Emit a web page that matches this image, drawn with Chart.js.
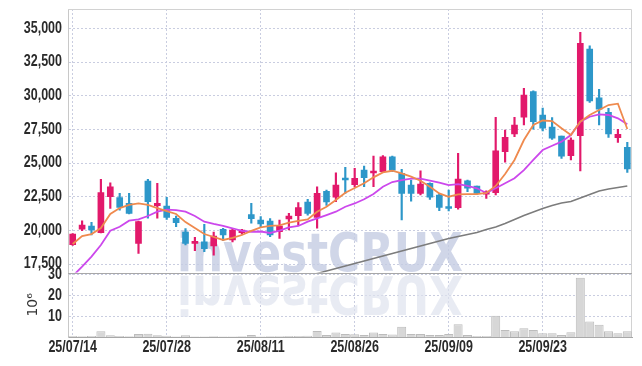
<!DOCTYPE html>
<html>
<head>
<meta charset="utf-8">
<script src="https://cdn.jsdelivr.net/npm/chart.js@4/dist/chart.umd.min.js"></script>
<style>
  body { margin: 0; background: #fff; }
</style>
</head>
<body>
<canvas id="chart" width="642" height="366"></canvas>
<script>
const dates = [
  '25/07/14', '25/07/15', '25/07/16', '25/07/17', '25/07/18', '25/07/21', '25/07/22', '25/07/23', '25/07/24', '25/07/25',
  '25/07/28', '25/07/29', '25/07/30', '25/07/31', '25/08/01', '25/08/04', '25/08/05', '25/08/06', '25/08/07', '25/08/08',
  '25/08/11', '25/08/12', '25/08/13', '25/08/14', '25/08/18', '25/08/19', '25/08/20', '25/08/21', '25/08/22', '25/08/25',
  '25/08/26', '25/08/27', '25/08/28', '25/08/29', '25/09/01', '25/09/02', '25/09/03', '25/09/04', '25/09/05', '25/09/08',
  '25/09/09', '25/09/10', '25/09/11', '25/09/12', '25/09/15', '25/09/16', '25/09/17', '25/09/18', '25/09/19', '25/09/22',
  '25/09/23', '25/09/24', '25/09/25', '25/09/26', '25/09/29', '25/09/30', '25/10/01', '25/10/02', '25/10/10', '25/10/13'
]

const opens = [
  18940, 20100, 20330, 19830, 22500, 22430, 22010, 19040, 23670, 21830,
  21810, 20900, 19880, 19040, 19160, 18840, 20080, 19290, 19830, 21170,
  20770, 20700, 19900, 20850, 21090, 22110, 20970, 22900, 22460, 23870,
  23390, 24480, 24260, 24360, 25470, 24240, 23370, 22750, 23500, 22630,
  21700, 21690, 23690, 23300, 22700, 22800, 25840, 27160, 28400, 30300,
  28570, 27680, 27010, 25550, 27030, 33470, 29850, 28770, 26880, 26170
]
const highs = [
  19770, 20720, 20600, 23790, 23540, 22750, 22750, 20700, 23790, 23500,
  22460, 21070, 20130, 19490, 20450, 19880, 20160, 20130, 20080, 22010,
  21020, 20870, 20770, 21270, 22060, 22310, 23240, 23000, 24280, 24680,
  24610, 24780, 25520, 25550, 25520, 24540, 23740, 24430, 23540, 22750,
  23000, 25720, 23740, 23300, 22930, 28400, 27450, 28400, 30550, 30370,
  29090, 28370, 27010, 26880, 34710, 33710, 30480, 29070, 27510, 26540
]
const lows = [
  18880, 19980, 19660, 19810, 21640, 21510, 21220, 18300, 20900, 20900,
  20820, 20270, 18920, 18490, 18420, 18170, 19240, 19140, 19730, 20530,
  20230, 19530, 19410, 20030, 20380, 21140, 20160, 21860, 22130, 22750,
  23220, 23240, 23240, 24340, 24360, 20770, 22180, 22630, 22310, 21460,
  21440, 21570, 22870, 22700, 22380, 22630, 25060, 26960, 27830, 27510,
  27380, 26760, 25350, 25230, 24410, 29510, 27830, 26910, 26540, 24310
]
const closes = [
  19730, 20400, 20030, 22800, 23240, 21710, 21270, 20650, 22130, 22010,
  20970, 20570, 19040, 19190, 18640, 19580, 19660, 20030, 20030, 20870,
  20480, 19660, 20330, 21070, 21690, 21270, 22750, 22110, 23370, 23740,
  23870, 23910, 24410, 25470, 24480, 22750, 22750, 23440, 22460, 21710,
  21630, 23820, 23130, 22750, 22870, 25900, 26910, 27830, 30050, 28070,
  27600, 26840, 25520, 26710, 33890, 29610, 29010, 27160, 27130, 24560
]

// moving averages
const maShort = [
  18990, 19580, 19730, 20180, 21220, 21660, 21890, 22000, 21890, 21660,
  21440, 21220, 20620, 20180, 19730, 19510, 19290, 19440, 19660, 19960,
  20220, 20330, 20380, 20570, 20700, 20820, 21390, 21760, 22260, 22800,
  23150, 23500, 23940, 24310, 24430, 24240, 23990, 23690, 23240, 22750,
  22500, 22680, 22700, 22700, 22780, 23300, 24190, 25230, 26710, 27830,
  28160, 28120, 27580, 27080, 28070, 28570, 28940, 29310, 29410, 27530
]
const maMid = [
  16610, 17310, 18050, 18920, 19980, 20270, 20720, 20820, 21070, 21390,
  21540, 21510, 21390, 21070, 20650, 20480, 20330, 20160, 19960, 19900,
  19920, 19810, 19980, 20230, 20330, 20650, 20900, 21140, 21390, 21760,
  22000, 22310, 22700, 23240, 23590, 23740, 23840, 23840, 23690, 23540,
  23370, 23440, 23300, 23130, 22780, 23130, 23500, 23870, 24480, 25230,
  25970, 26290, 26590, 27080, 28070, 28440, 28620, 28570, 28320, 27880
]
const maLong = [
  null, null, null, null, null, null, null, null, null, null,
  null, null, null, null, null, null, null, null, null, null,
  null, null, null, null, null, 16610, 16800, 16990, 17170, 17360,
  17540, 17730, 17910, 18100, 18290, 18470, 18660, 18840, 19030, 19210,
  19400, 19550, 19700, 19840, 20070, 20250, 20510, 20810, 21110, 21370,
  21630, 21850, 22030, 22150, 22410, 22670, 22930, 23070, 23190, 23300
]

// volume in millions of shares
const volumes = [
  0.5, 0.4, 0.5, 2.8, 0.8, 0.5, 0.4, 1.5, 1.6, 0.9,
  0.6, 0.3, 0.8, 0.3, 0.3, 0.4, 0.3, 0.3, 0.4, 1.0,
  0.3, 0.4, 0.4, 0.5, 0.5, 0.6, 2.9, 1.0, 2.2, 1.5,
  1.3, 1.0, 2.2, 1.4, 1.2, 5.0, 1.4, 1.5, 1.0, 1.0,
  1.5, 6.2, 1.0, 0.5, 0.5, 10.2, 3.4, 2.8, 4.2, 3.4,
  1.8, 1.8, 1.0, 2.3, 28.6, 7.5, 5.9, 2.8, 1.8, 2.8
]

const priceTicks = [17500, 20000, 22500, 25000, 27500, 30000, 32500, 35000]
const volumeTicks = [10, 20, 30]

const UP = '#e2196b'
const DOWN = '#2d97c9'
const candleColors = closes.map((c, i) => (c >= opens[i] ? UP : DOWN))

const gridColor = '#c9cde0'
const labelFont = 'bold 16px "Liberation Sans", Arial, sans-serif'

// keep price marks inside the upper panel
const panelClip = {
  id: 'panelClip',
  beforeDatasetDraw(chart, args) {
    if (args.meta.yAxisID !== 'y') return
    const y = chart.scales.y
    const ctx = chart.ctx
    ctx.save()
    ctx.beginPath()
    ctx.rect(chart.chartArea.left, y.top, chart.chartArea.right - chart.chartArea.left, y.bottom - y.top)
    ctx.clip()
  },
  afterDatasetDraw(chart, args) {
    if (args.meta.yAxisID !== 'y') return
    chart.ctx.restore()
  }
}

// narrow tick labels: regular sans squeezed horizontally
function narrowText(ctx, text, x, y, align) {
  ctx.save()
  ctx.translate(x, y)
  ctx.scale(0.78, 1)
  ctx.textAlign = align
  ctx.fillText(text, 0, 0)
  ctx.restore()
}

const decor = {
  id: 'decor',
  beforeDatasetsDraw(chart) {
    const ctx = chart.ctx
    const area = chart.chartArea
    const y = chart.scales.y

    // watermark + reflection
    ctx.save()
    ctx.beginPath()
    ctx.rect(area.left, area.top, area.right - area.left, area.bottom - area.top)
    ctx.clip()
    ctx.font = 'bold 54px "DejaVu Sans", sans-serif'
    ctx.textBaseline = 'alphabetic'
    ctx.fillStyle = 'rgba(196, 204, 226, 0.8)'
    ctx.fillText('investCRUX', 177, 271, 286)
    ctx.translate(0, 547)
    ctx.scale(1, -1)
    ctx.fillStyle = 'rgba(222, 226, 238, 0.7)'
    ctx.fillText('investCRUX', 177, 271, 286)
    ctx.restore()

    // frame and panel separator
    ctx.save()
    ctx.lineWidth = 1
    ctx.strokeStyle = '#d2d2d2'
    ctx.beginPath()
    ctx.moveTo(area.left, area.top + 0.5)
    ctx.lineTo(area.right - 0.5, area.top + 0.5)
    ctx.lineTo(area.right - 0.5, area.bottom)
    ctx.stroke()
    ctx.strokeStyle = '#a8a8a8'
    ctx.beginPath()
    ctx.moveTo(area.left, Math.round(y.bottom) + 0.5)
    ctx.lineTo(area.right, Math.round(y.bottom) + 0.5)
    ctx.stroke()
    ctx.restore()
  },
  afterDraw(chart) {
    const ctx = chart.ctx
    const { x, y, yv } = chart.scales
    ctx.save()
    ctx.fillStyle = '#2a2a2a'
    ctx.font = labelFont
    ctx.textBaseline = 'middle'
    priceTicks.forEach(v => narrowText(ctx, v.toLocaleString('en-US'), 62, y.getPixelForValue(v), 'right'))
    volumeTicks.forEach(v => narrowText(ctx, String(v), 62, yv.getPixelForValue(v), 'right'))
    dates.forEach((d, i) => {
      if (i % 10 === 0) narrowText(ctx, d, x.getPixelForValue(i), 348, 'center')
    })

    ctx.translate(33, (yv.top + yv.bottom) / 2)
    ctx.rotate(-Math.PI / 2)
    ctx.fillStyle = '#333'
    ctx.textAlign = 'center'
    ctx.font = '14px "DejaVu Sans", sans-serif'
    ctx.fillText('10\u2076', 0, 0)
    ctx.restore()
  }
}

new Chart(document.getElementById('chart'), {
  type: 'bar',
  data: {
    labels: dates,
    datasets: [
      {
        type: 'line',
        label: 'MA short',
        data: maShort,
        yAxisID: 'y',
        borderColor: '#ef8a4e',
        borderWidth: 1.8,
        pointRadius: 0,
        tension: 0,
        order: 0
      },
      {
        type: 'line',
        label: 'MA mid',
        data: maMid,
        yAxisID: 'y',
        borderColor: '#cc48ec',
        borderWidth: 1.8,
        pointRadius: 0,
        tension: 0,
        order: 0
      },
      {
        type: 'line',
        label: 'MA long',
        data: maLong,
        yAxisID: 'y',
        borderColor: '#7c7c7c',
        borderWidth: 1.6,
        pointRadius: 0,
        tension: 0,
        order: 0
      },
      {
        label: 'wick',
        data: lows.map((l, i) => [l, highs[i]]),
        yAxisID: 'y',
        backgroundColor: candleColors,
        barThickness: 1.5,
        grouped: false,
        order: 2
      },
      {
        label: 'body',
        data: opens.map((o, i) => [o, closes[i]]),
        yAxisID: 'y',
        backgroundColor: candleColors,
        barThickness: 6,
        minBarLength: 2,
        grouped: false,
        order: 1
      },
      {
        label: 'volume',
        data: volumes,
        yAxisID: 'yv',
        backgroundColor: '#d7d7d7',
        borderColor: '#bcbcbc',
        borderWidth: 1,
        barPercentage: 1,
        categoryPercentage: 0.96,
        grouped: false,
        order: 3
      }
    ]
  },
  options: {
    responsive: false,
    animation: false,
    layout: { padding: { top: 9, right: 10, left: 0, bottom: 0 } },
    plugins: {
      legend: { display: false },
      tooltip: { enabled: false }
    },
    scales: {
      x: {
        offset: true,
        grid: { offset: false, color: gridColor, drawTicks: false },
        border: { display: true, color: '#a8a8a8', dash: [2, 2] },
        ticks: { display: false, autoSkip: false },
        afterBuildTicks(scale) {
          scale.ticks = scale.ticks.filter(t => t.value % 10 === 0)
        },
        afterFit(scale) { scale.height = 29 }
      },
      yv: {
        position: 'left',
        stack: 'panels',
        stackWeight: 64.3,
        min: 0,
        max: 31,
        grid: { color: gridColor, drawTicks: false },
        border: { display: true, color: '#c8c8c8', dash: [2, 2] },
        ticks: { display: false, autoSkip: false },
        afterBuildTicks(scale) {
          scale.ticks = volumeTicks.map(v => ({ value: v }))
        },
        afterFit(scale) { scale.width = 68 }
      },
      y: {
        position: 'left',
        stack: 'panels',
        stackWeight: 263.7,
        min: 16860,
        max: 36440,
        grid: { color: gridColor, drawTicks: false },
        border: { display: true, color: '#c8c8c8', dash: [2, 2] },
        ticks: { display: false, autoSkip: false },
        afterBuildTicks(scale) {
          scale.ticks = priceTicks.map(v => ({ value: v }))
        },
        afterFit(scale) { scale.width = 68 }
      }
    }
  },
  plugins: [panelClip, decor]
})
</script>
</body>
</html>
